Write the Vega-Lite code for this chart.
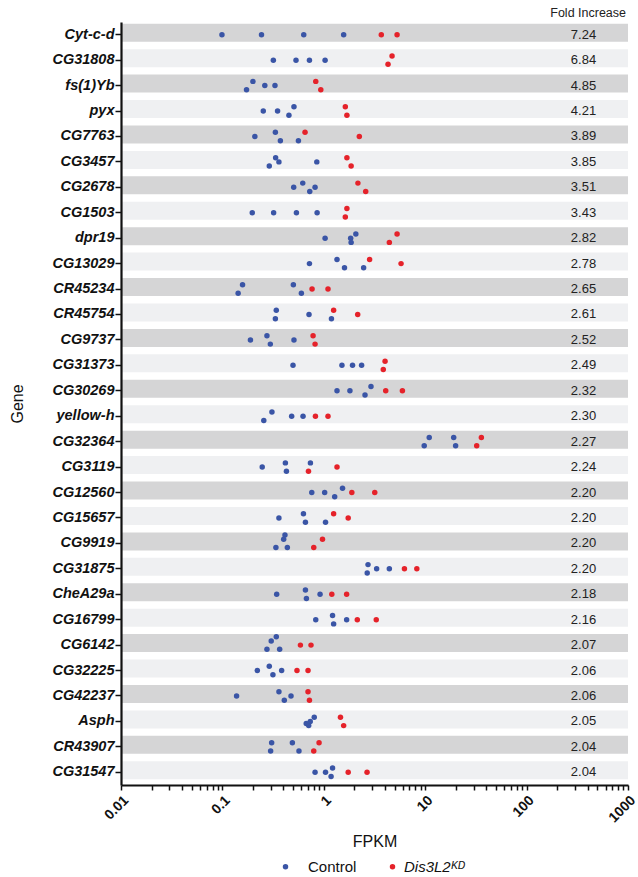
{
  "$schema": "https://vega.github.io/schema/vega-lite/v6.json",
  "autosize": {"type": "none"},
  "padding": {"left": 121, "top": 22, "right": 10, "bottom": 92},
  "width": 507,
  "height": 763,
  "background": "white",
  "title": {"text": "Fold Increase", "anchor": "end", "frame": "group", "fontSize": 12.5, "fontWeight": "normal", "font": "Liberation Sans", "color": "#222222", "offset": 3, "dx": -2},
  "config": {
    "view": {"stroke": null},
    "font": "Liberation Sans"
  },
  "datasets": {
    "genes": [
      {"gene": "Cyt-c-d", "fold": 7.24},
      {"gene": "CG31808", "fold": 6.84},
      {"gene": "fs(1)Yb", "fold": 4.85},
      {"gene": "pyx", "fold": 4.21},
      {"gene": "CG7763", "fold": 3.89},
      {"gene": "CG3457", "fold": 3.85},
      {"gene": "CG2678", "fold": 3.51},
      {"gene": "CG1503", "fold": 3.43},
      {"gene": "dpr19", "fold": 2.82},
      {"gene": "CG13029", "fold": 2.78},
      {"gene": "CR45234", "fold": 2.65},
      {"gene": "CR45754", "fold": 2.61},
      {"gene": "CG9737", "fold": 2.52},
      {"gene": "CG31373", "fold": 2.49},
      {"gene": "CG30269", "fold": 2.32},
      {"gene": "yellow-h", "fold": 2.30},
      {"gene": "CG32364", "fold": 2.27},
      {"gene": "CG3119", "fold": 2.24},
      {"gene": "CG12560", "fold": 2.20},
      {"gene": "CG15657", "fold": 2.20},
      {"gene": "CG9919", "fold": 2.20},
      {"gene": "CG31875", "fold": 2.20},
      {"gene": "CheA29a", "fold": 2.18},
      {"gene": "CG16799", "fold": 2.16},
      {"gene": "CG6142", "fold": 2.07},
      {"gene": "CG32225", "fold": 2.06},
      {"gene": "CG42237", "fold": 2.06},
      {"gene": "Asph", "fold": 2.05},
      {"gene": "CR43907", "fold": 2.04},
      {"gene": "CG31547", "fold": 2.04}
    ],
    "points": [
      {"gene": "Cyt-c-d", "group": "Control", "fpkm": 0.099, "lane": 0},
      {"gene": "Cyt-c-d", "group": "Control", "fpkm": 0.243, "lane": 0},
      {"gene": "Cyt-c-d", "group": "Control", "fpkm": 0.634, "lane": 0},
      {"gene": "Cyt-c-d", "group": "Control", "fpkm": 1.57, "lane": 0},
      {"gene": "Cyt-c-d", "group": "Dis3L2ᴷᴰ", "fpkm": 3.69, "lane": 0},
      {"gene": "Cyt-c-d", "group": "Dis3L2ᴷᴰ", "fpkm": 5.28, "lane": 0},
      {"gene": "CG31808", "group": "Control", "fpkm": 0.318, "lane": 0},
      {"gene": "CG31808", "group": "Control", "fpkm": 0.532, "lane": 0},
      {"gene": "CG31808", "group": "Control", "fpkm": 0.722, "lane": 0},
      {"gene": "CG31808", "group": "Control", "fpkm": 1.03, "lane": 0},
      {"gene": "CG31808", "group": "Dis3L2ᴷᴰ", "fpkm": 4.71, "lane": -1},
      {"gene": "CG31808", "group": "Dis3L2ᴷᴰ", "fpkm": 4.30, "lane": 1},
      {"gene": "fs(1)Yb", "group": "Control", "fpkm": 0.173, "lane": 1},
      {"gene": "fs(1)Yb", "group": "Control", "fpkm": 0.2, "lane": -1},
      {"gene": "fs(1)Yb", "group": "Control", "fpkm": 0.262, "lane": 0},
      {"gene": "fs(1)Yb", "group": "Control", "fpkm": 0.33, "lane": 0},
      {"gene": "fs(1)Yb", "group": "Dis3L2ᴷᴰ", "fpkm": 0.833, "lane": -1},
      {"gene": "fs(1)Yb", "group": "Dis3L2ᴷᴰ", "fpkm": 0.934, "lane": 1},
      {"gene": "pyx", "group": "Control", "fpkm": 0.253, "lane": 0},
      {"gene": "pyx", "group": "Control", "fpkm": 0.35, "lane": 0},
      {"gene": "pyx", "group": "Control", "fpkm": 0.453, "lane": 1},
      {"gene": "pyx", "group": "Control", "fpkm": 0.508, "lane": -1},
      {"gene": "pyx", "group": "Dis3L2ᴷᴰ", "fpkm": 1.63, "lane": -1},
      {"gene": "pyx", "group": "Dis3L2ᴷᴰ", "fpkm": 1.69, "lane": 1},
      {"gene": "CG7763", "group": "Control", "fpkm": 0.209, "lane": 0},
      {"gene": "CG7763", "group": "Control", "fpkm": 0.333, "lane": -1},
      {"gene": "CG7763", "group": "Control", "fpkm": 0.373, "lane": 1},
      {"gene": "CG7763", "group": "Control", "fpkm": 0.562, "lane": 1},
      {"gene": "CG7763", "group": "Dis3L2ᴷᴰ", "fpkm": 0.653, "lane": -1},
      {"gene": "CG7763", "group": "Dis3L2ᴷᴰ", "fpkm": 2.24, "lane": 0},
      {"gene": "CG3457", "group": "Control", "fpkm": 0.29, "lane": 1},
      {"gene": "CG3457", "group": "Control", "fpkm": 0.335, "lane": -1},
      {"gene": "CG3457", "group": "Control", "fpkm": 0.361, "lane": 0},
      {"gene": "CG3457", "group": "Control", "fpkm": 0.853, "lane": 0},
      {"gene": "CG3457", "group": "Dis3L2ᴷᴰ", "fpkm": 1.69, "lane": -1},
      {"gene": "CG3457", "group": "Dis3L2ᴷᴰ", "fpkm": 1.86, "lane": 1},
      {"gene": "CG2678", "group": "Control", "fpkm": 0.505, "lane": 0},
      {"gene": "CG2678", "group": "Control", "fpkm": 0.62, "lane": -1},
      {"gene": "CG2678", "group": "Control", "fpkm": 0.727, "lane": 1},
      {"gene": "CG2678", "group": "Control", "fpkm": 0.82, "lane": 0},
      {"gene": "CG2678", "group": "Dis3L2ᴷᴰ", "fpkm": 2.17, "lane": -1},
      {"gene": "CG2678", "group": "Dis3L2ᴷᴰ", "fpkm": 2.59, "lane": 1},
      {"gene": "CG1503", "group": "Control", "fpkm": 0.197, "lane": 0},
      {"gene": "CG1503", "group": "Control", "fpkm": 0.32, "lane": 0},
      {"gene": "CG1503", "group": "Control", "fpkm": 0.537, "lane": 0},
      {"gene": "CG1503", "group": "Control", "fpkm": 0.859, "lane": 0},
      {"gene": "CG1503", "group": "Dis3L2ᴷᴰ", "fpkm": 1.69, "lane": -1},
      {"gene": "CG1503", "group": "Dis3L2ᴷᴰ", "fpkm": 1.63, "lane": 1},
      {"gene": "dpr19", "group": "Control", "fpkm": 1.03, "lane": 0},
      {"gene": "dpr19", "group": "Control", "fpkm": 1.84, "lane": 0},
      {"gene": "dpr19", "group": "Control", "fpkm": 1.86, "lane": 1},
      {"gene": "dpr19", "group": "Control", "fpkm": 2.07, "lane": -1},
      {"gene": "dpr19", "group": "Dis3L2ᴷᴰ", "fpkm": 4.43, "lane": 1},
      {"gene": "dpr19", "group": "Dis3L2ᴷᴰ", "fpkm": 5.28, "lane": -1},
      {"gene": "CG13029", "group": "Control", "fpkm": 0.722, "lane": 0},
      {"gene": "CG13029", "group": "Control", "fpkm": 1.35, "lane": -1},
      {"gene": "CG13029", "group": "Control", "fpkm": 1.60, "lane": 1},
      {"gene": "CG13029", "group": "Control", "fpkm": 2.47, "lane": 1},
      {"gene": "CG13029", "group": "Dis3L2ᴷᴰ", "fpkm": 2.83, "lane": -1},
      {"gene": "CG13029", "group": "Dis3L2ᴷᴰ", "fpkm": 5.78, "lane": 0},
      {"gene": "CR45234", "group": "Control", "fpkm": 0.143, "lane": 1},
      {"gene": "CR45234", "group": "Control", "fpkm": 0.158, "lane": -1},
      {"gene": "CR45234", "group": "Control", "fpkm": 0.501, "lane": -1},
      {"gene": "CR45234", "group": "Control", "fpkm": 0.601, "lane": 1},
      {"gene": "CR45234", "group": "Dis3L2ᴷᴰ", "fpkm": 0.766, "lane": 0},
      {"gene": "CR45234", "group": "Dis3L2ᴷᴰ", "fpkm": 1.10, "lane": 0},
      {"gene": "CR45754", "group": "Control", "fpkm": 0.34, "lane": -1},
      {"gene": "CR45754", "group": "Control", "fpkm": 0.333, "lane": 1},
      {"gene": "CR45754", "group": "Control", "fpkm": 0.715, "lane": 0},
      {"gene": "CR45754", "group": "Control", "fpkm": 1.19, "lane": 1},
      {"gene": "CR45754", "group": "Dis3L2ᴷᴰ", "fpkm": 1.25, "lane": -1},
      {"gene": "CR45754", "group": "Dis3L2ᴷᴰ", "fpkm": 2.16, "lane": 0},
      {"gene": "CG9737", "group": "Control", "fpkm": 0.189, "lane": 0},
      {"gene": "CG9737", "group": "Control", "fpkm": 0.275, "lane": -1},
      {"gene": "CG9737", "group": "Control", "fpkm": 0.297, "lane": 1},
      {"gene": "CG9737", "group": "Control", "fpkm": 0.508, "lane": 0},
      {"gene": "CG9737", "group": "Dis3L2ᴷᴰ", "fpkm": 0.784, "lane": -1},
      {"gene": "CG9737", "group": "Dis3L2ᴷᴰ", "fpkm": 0.82, "lane": 1},
      {"gene": "CG31373", "group": "Control", "fpkm": 0.497, "lane": 0},
      {"gene": "CG31373", "group": "Control", "fpkm": 1.51, "lane": 0},
      {"gene": "CG31373", "group": "Control", "fpkm": 1.92, "lane": 0},
      {"gene": "CG31373", "group": "Control", "fpkm": 2.36, "lane": 0},
      {"gene": "CG31373", "group": "Dis3L2ᴷᴰ", "fpkm": 4.02, "lane": -1},
      {"gene": "CG31373", "group": "Dis3L2ᴷᴰ", "fpkm": 3.86, "lane": 1},
      {"gene": "CG30269", "group": "Control", "fpkm": 1.35, "lane": 0},
      {"gene": "CG30269", "group": "Control", "fpkm": 1.81, "lane": 0},
      {"gene": "CG30269", "group": "Control", "fpkm": 2.55, "lane": 1},
      {"gene": "CG30269", "group": "Control", "fpkm": 2.92, "lane": -1},
      {"gene": "CG30269", "group": "Dis3L2ᴷᴰ", "fpkm": 4.08, "lane": 0},
      {"gene": "CG30269", "group": "Dis3L2ᴷᴰ", "fpkm": 5.96, "lane": 0},
      {"gene": "yellow-h", "group": "Control", "fpkm": 0.256, "lane": 1},
      {"gene": "yellow-h", "group": "Control", "fpkm": 0.308, "lane": -1},
      {"gene": "yellow-h", "group": "Control", "fpkm": 0.482, "lane": 0},
      {"gene": "yellow-h", "group": "Control", "fpkm": 0.624, "lane": 0},
      {"gene": "yellow-h", "group": "Dis3L2ᴷᴰ", "fpkm": 0.827, "lane": 0},
      {"gene": "yellow-h", "group": "Dis3L2ᴷᴰ", "fpkm": 1.10, "lane": 0},
      {"gene": "CG32364", "group": "Control", "fpkm": 9.78, "lane": 1},
      {"gene": "CG32364", "group": "Control", "fpkm": 10.96, "lane": -1},
      {"gene": "CG32364", "group": "Control", "fpkm": 19.1, "lane": -1},
      {"gene": "CG32364", "group": "Control", "fpkm": 19.95, "lane": 1},
      {"gene": "CG32364", "group": "Dis3L2ᴷᴰ", "fpkm": 32.2, "lane": 1},
      {"gene": "CG32364", "group": "Dis3L2ᴷᴰ", "fpkm": 35.8, "lane": -1},
      {"gene": "CG3119", "group": "Control", "fpkm": 0.247, "lane": 0},
      {"gene": "CG3119", "group": "Control", "fpkm": 0.418, "lane": -1},
      {"gene": "CG3119", "group": "Control", "fpkm": 0.428, "lane": 1},
      {"gene": "CG3119", "group": "Control", "fpkm": 0.738, "lane": -1},
      {"gene": "CG3119", "group": "Dis3L2ᴷᴰ", "fpkm": 0.706, "lane": 1},
      {"gene": "CG3119", "group": "Dis3L2ᴷᴰ", "fpkm": 1.35, "lane": 0},
      {"gene": "CG12560", "group": "Control", "fpkm": 0.761, "lane": 0},
      {"gene": "CG12560", "group": "Control", "fpkm": 1.02, "lane": 0},
      {"gene": "CG12560", "group": "Control", "fpkm": 1.28, "lane": 1},
      {"gene": "CG12560", "group": "Control", "fpkm": 1.53, "lane": -1},
      {"gene": "CG12560", "group": "Dis3L2ᴷᴰ", "fpkm": 1.89, "lane": 0},
      {"gene": "CG12560", "group": "Dis3L2ᴷᴰ", "fpkm": 3.18, "lane": 0},
      {"gene": "CG15657", "group": "Control", "fpkm": 0.361, "lane": 0},
      {"gene": "CG15657", "group": "Control", "fpkm": 0.63, "lane": -1},
      {"gene": "CG15657", "group": "Control", "fpkm": 0.659, "lane": 1},
      {"gene": "CG15657", "group": "Control", "fpkm": 1.04, "lane": 1},
      {"gene": "CG15657", "group": "Dis3L2ᴷᴰ", "fpkm": 1.25, "lane": -1},
      {"gene": "CG15657", "group": "Dis3L2ᴷᴰ", "fpkm": 1.74, "lane": 0},
      {"gene": "CG9919", "group": "Control", "fpkm": 0.414, "lane": -2},
      {"gene": "CG9919", "group": "Control", "fpkm": 0.402, "lane": -1},
      {"gene": "CG9919", "group": "Control", "fpkm": 0.337, "lane": 1},
      {"gene": "CG9919", "group": "Control", "fpkm": 0.437, "lane": 1},
      {"gene": "CG9919", "group": "Dis3L2ᴷᴰ", "fpkm": 0.796, "lane": 1},
      {"gene": "CG9919", "group": "Dis3L2ᴷᴰ", "fpkm": 0.971, "lane": -1},
      {"gene": "CG31875", "group": "Control", "fpkm": 2.73, "lane": -1},
      {"gene": "CG31875", "group": "Control", "fpkm": 2.68, "lane": 1},
      {"gene": "CG31875", "group": "Control", "fpkm": 3.32, "lane": 0},
      {"gene": "CG31875", "group": "Control", "fpkm": 4.43, "lane": 0},
      {"gene": "CG31875", "group": "Dis3L2ᴷᴰ", "fpkm": 6.24, "lane": 0},
      {"gene": "CG31875", "group": "Dis3L2ᴷᴰ", "fpkm": 8.27, "lane": 0},
      {"gene": "CheA29a", "group": "Control", "fpkm": 0.343, "lane": 0},
      {"gene": "CheA29a", "group": "Control", "fpkm": 0.659, "lane": -1},
      {"gene": "CheA29a", "group": "Control", "fpkm": 0.674, "lane": 1},
      {"gene": "CheA29a", "group": "Control", "fpkm": 0.919, "lane": 0},
      {"gene": "CheA29a", "group": "Dis3L2ᴷᴰ", "fpkm": 1.2, "lane": 0},
      {"gene": "CheA29a", "group": "Dis3L2ᴷᴰ", "fpkm": 1.68, "lane": 0},
      {"gene": "CG16799", "group": "Control", "fpkm": 0.833, "lane": 0},
      {"gene": "CG16799", "group": "Control", "fpkm": 1.22, "lane": -1},
      {"gene": "CG16799", "group": "Control", "fpkm": 1.25, "lane": 1},
      {"gene": "CG16799", "group": "Control", "fpkm": 1.68, "lane": 0},
      {"gene": "CG16799", "group": "Dis3L2ᴷᴰ", "fpkm": 2.14, "lane": 0},
      {"gene": "CG16799", "group": "Dis3L2ᴷᴰ", "fpkm": 3.29, "lane": 0},
      {"gene": "CG6142", "group": "Control", "fpkm": 0.275, "lane": 1},
      {"gene": "CG6142", "group": "Control", "fpkm": 0.303, "lane": -1},
      {"gene": "CG6142", "group": "Control", "fpkm": 0.34, "lane": -2},
      {"gene": "CG6142", "group": "Control", "fpkm": 0.367, "lane": 1},
      {"gene": "CG6142", "group": "Dis3L2ᴷᴰ", "fpkm": 0.588, "lane": 0},
      {"gene": "CG6142", "group": "Dis3L2ᴷᴰ", "fpkm": 0.748, "lane": 0},
      {"gene": "CG32225", "group": "Control", "fpkm": 0.221, "lane": 0},
      {"gene": "CG32225", "group": "Control", "fpkm": 0.29, "lane": -1},
      {"gene": "CG32225", "group": "Control", "fpkm": 0.315, "lane": 1},
      {"gene": "CG32225", "group": "Control", "fpkm": 0.384, "lane": 0},
      {"gene": "CG32225", "group": "Dis3L2ᴷᴰ", "fpkm": 0.544, "lane": 0},
      {"gene": "CG32225", "group": "Dis3L2ᴷᴰ", "fpkm": 0.699, "lane": 0},
      {"gene": "CG42237", "group": "Control", "fpkm": 0.138, "lane": 0},
      {"gene": "CG42237", "group": "Control", "fpkm": 0.361, "lane": -1},
      {"gene": "CG42237", "group": "Control", "fpkm": 0.408, "lane": 1},
      {"gene": "CG42237", "group": "Control", "fpkm": 0.475, "lane": 0},
      {"gene": "CG42237", "group": "Dis3L2ᴷᴰ", "fpkm": 0.699, "lane": -1},
      {"gene": "CG42237", "group": "Dis3L2ᴷᴰ", "fpkm": 0.722, "lane": 1},
      {"gene": "Asph", "group": "Control", "fpkm": 0.671, "lane": 0.5},
      {"gene": "Asph", "group": "Control", "fpkm": 0.71, "lane": 1},
      {"gene": "Asph", "group": "Control", "fpkm": 0.735, "lane": 0},
      {"gene": "Asph", "group": "Control", "fpkm": 0.805, "lane": -1},
      {"gene": "Asph", "group": "Dis3L2ᴷᴰ", "fpkm": 1.46, "lane": -1},
      {"gene": "Asph", "group": "Dis3L2ᴷᴰ", "fpkm": 1.57, "lane": 1},
      {"gene": "CR43907", "group": "Control", "fpkm": 0.306, "lane": -1},
      {"gene": "CR43907", "group": "Control", "fpkm": 0.299, "lane": 1},
      {"gene": "CR43907", "group": "Control", "fpkm": 0.49, "lane": -1},
      {"gene": "CR43907", "group": "Control", "fpkm": 0.569, "lane": 1},
      {"gene": "CR43907", "group": "Dis3L2ᴷᴰ", "fpkm": 0.796, "lane": 1},
      {"gene": "CR43907", "group": "Dis3L2ᴷᴰ", "fpkm": 0.898, "lane": -1},
      {"gene": "CG31547", "group": "Control", "fpkm": 0.82, "lane": 0},
      {"gene": "CG31547", "group": "Control", "fpkm": 1.04, "lane": 0},
      {"gene": "CG31547", "group": "Control", "fpkm": 1.18, "lane": 1},
      {"gene": "CG31547", "group": "Control", "fpkm": 1.22, "lane": -1},
      {"gene": "CG31547", "group": "Dis3L2ᴷᴰ", "fpkm": 1.74, "lane": 0},
      {"gene": "CG31547", "group": "Dis3L2ᴷᴰ", "fpkm": 2.67, "lane": 0}
    ]
  },
  "encoding": {
    "y": {
      "field": "gene", "type": "nominal", "sort": null,
      "scale": {"type": "band", "paddingInner": 0.135, "paddingOuter": 0.0675},
      "axis": {
        "title": "Gene", "titleFontSize": 16, "titleFontWeight": "normal", "titleColor": "#111111", "titlePadding": 26,
        "labelFont": "Liberation Sans", "labelFontSize": 14.5, "labelFontWeight": "bold", "labelFontStyle": "italic", "labelColor": "#111111", "labelPadding": 1,
        "tickSize": 6, "tickWidth": 1.5, "tickColor": "#111111",
        "domainColor": "#111111", "domainWidth": 2.2, "grid": false
      }
    }
  },
  "layer": [
    {
      "data": {"name": "genes"},
      "transform": [{"window": [{"op": "row_number", "as": "idx"}]}],
      "mark": {"type": "rect"},
      "encoding": {
        "color": {"condition": {"test": "datum.idx % 2 === 1", "value": "#d5d5d6"}, "value": "#eff0f2"}
      }
    },
    {
      "data": {"name": "points"},
      "mark": {"type": "circle", "size": 30, "opacity": 1},
      "encoding": {
        "x": {
          "field": "fpkm", "type": "quantitative",
          "scale": {"type": "log", "domain": [0.01, 1000], "nice": false},
          "axis": {
            "title": "FPKM", "titleFontSize": 16, "titleFontWeight": "normal", "titleColor": "#111111", "titlePadding": 9,
            "values": [0.01,0.02,0.03,0.04,0.05,0.06,0.07,0.08,0.09,0.1,0.2,0.3,0.4,0.5,0.6,0.7,0.8,0.9,1,2,3,4,5,6,7,8,9,10,20,30,40,50,60,70,80,90,100,200,300,400,500,600,700,800,900,1000],
            "labelExpr": "abs(log(datum.value)/LN10 - round(log(datum.value)/LN10)) < 0.001 ? format(datum.value, '~g') : ''",
            "labelAngle": -45, "labelFontSize": 14, "labelFontWeight": "bold", "labelColor": "#111111", "labelPadding": 3, "labelOverlap": false, "labelBound": false, "labelFlush": false,
            "tickSize": 5, "tickWidth": 1.5, "tickColor": "#111111",
            "domainColor": "#111111", "domainWidth": 2.2, "grid": false,
            "encode": {"ticks": {"update": {"y2": {"signal": "abs(log(datum.value)/LN10 - round(log(datum.value)/LN10)) < 0.001 ? 5.5 : 3"}}}}
          }
        },
        "yOffset": {"field": "lane", "type": "quantitative", "scale": {"domain": [-2, 2], "range": [2.6, 19.4]}},
        "color": {
          "field": "group", "type": "nominal",
          "scale": {"domain": ["Control", "Dis3L2ᴷᴰ"], "range": ["#3a55a6", "#e5222a"]},
          "legend": {
            "title": null, "orient": "none", "direction": "horizontal", "legendX": 157, "legendY": 837,
            "symbolType": "circle", "symbolSize": 30, "symbolStrokeWidth": 0, "labelFontSize": 15, "labelColor": "#111111", "columnPadding": 28, "padding": 0,
            "labelOffset": {"expr": "datum.label === 'Control' ? 15 : 4"},
            "labelFontStyle": {"expr": "datum.label === 'Control' ? 'normal' : 'italic'"}
          }
        }
      }
    },
    {
      "data": {"name": "genes"},
      "mark": {"type": "text", "fontSize": 13, "color": "#222222", "align": "center", "baseline": "middle"},
      "encoding": {
        "x": {"datum": 364, "type": "quantitative"},
        "text": {"field": "fold", "type": "quantitative", "format": ".2f"}
      }
    }
  ]
}
